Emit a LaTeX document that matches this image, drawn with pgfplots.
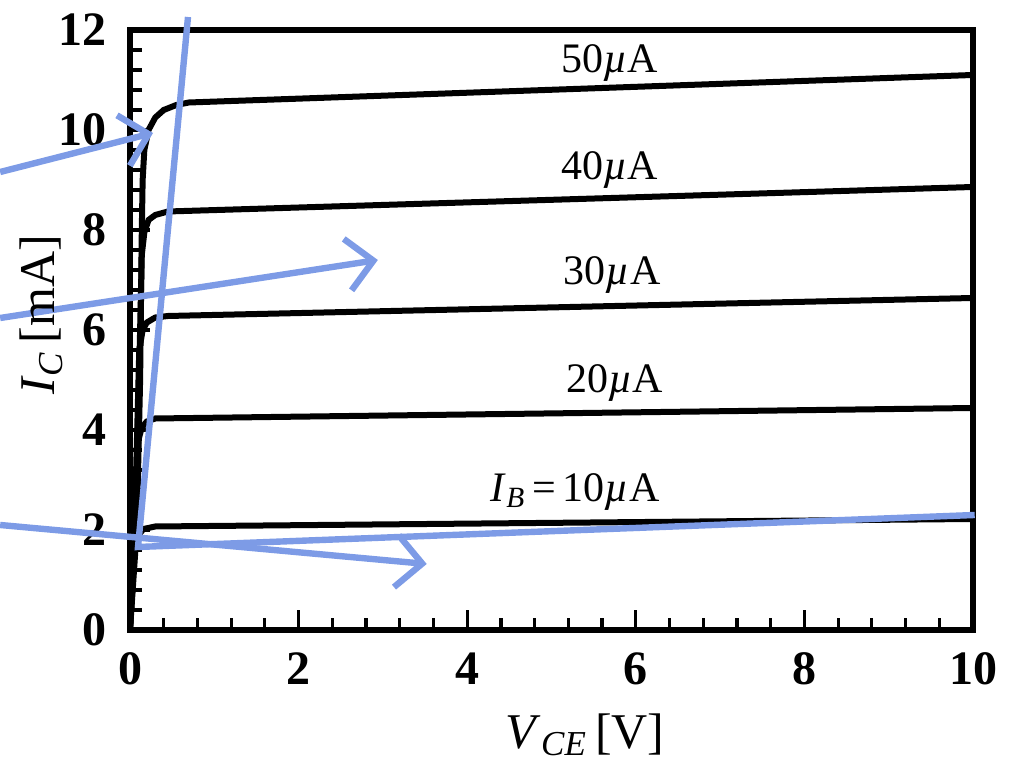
\documentclass[border=0pt]{standalone}
\usepackage{fontspec}
\setmainfont{Liberation Serif}
\usepackage{pgfplots}
\pgfplotsset{compat=1.18}
\usetikzlibrary{arrows.meta}
\definecolor{annot}{RGB}{125,155,230}
\begin{document}
\begin{tikzpicture}
\begin{axis}[
  scale only axis, width=421.5pt, height=300pt,
  xmin=0, xmax=10, ymin=0, ymax=12,
  xtick={0,2,...,10}, ytick={0,2,...,12},
  minor tick num=4,
  tick pos=left,
  tick align=inside,
  major tick length=10pt, minor tick length=6pt,
  axis line style={line width=2.6pt},
  every tick/.style={line width=1.6pt, black},
  /pgf/number format/assume math mode=true,
  ticklabel style={font=\fontsize{24}{24}\selectfont\bfseries},
  yticklabel style={xshift=-8pt},
  xticklabel style={yshift=-8pt},
  xlabel={\textit{V}\textsubscript{\textit{CE}}\,[V]},
  ylabel={\textit{I}\textsubscript{\textit{C}}\,[mA]},
  label style={font=\fontsize{25}{25}\selectfont},
  xlabel style={at={(axis description cs:0.54,-0.175)}, anchor=center},
  ylabel style={at={(axis description cs:-0.105,0.525)}, anchor=center},
  clip=false,
]
\addplot[black, line width=3pt] coordinates {(0,0) (0.08,2) (0.12,5) (0.14,8) (0.15,9) (0.17,9.6) (0.22,10.0) (0.3,10.25) (0.4,10.4) (0.55,10.5) (0.7,10.55) (10,11.1)};
\addplot[black, line width=3pt] coordinates {(0,0) (0.08,3) (0.12,6) (0.14,7.5) (0.17,7.95) (0.22,8.2) (0.3,8.3) (0.45,8.37) (10,8.86)};
\addplot[black, line width=3pt] coordinates {(0,0) (0.07,3) (0.11,5.6) (0.15,6.0) (0.2,6.15) (0.3,6.25) (0.45,6.28) (10,6.64)};
\addplot[black, line width=3pt] coordinates {(0,0) (0.06,2.5) (0.1,3.8) (0.14,4.05) (0.2,4.17) (0.3,4.23) (10,4.44)};
\addplot[black, line width=3pt] coordinates {(0,0) (0.05,1.5) (0.1,1.9) (0.16,2.02) (0.3,2.07) (10,2.22)};
\node[font=\fontsize{21}{21}\selectfont] at (axis cs:5.69,11.34) {50\textit{µ}A};
\node[font=\fontsize{21}{21}\selectfont] at (axis cs:5.69,9.2) {40\textit{µ}A};
\node[font=\fontsize{21}{21}\selectfont] at (axis cs:5.72,7.1) {30\textit{µ}A};
\node[font=\fontsize{21}{21}\selectfont] at (axis cs:5.75,4.94) {20\textit{µ}A};
\node[font=\fontsize{21}{21}\selectfont] at (axis cs:5.28,2.76) {\textit{I}\textsubscript{\textit{B}}\,=\,10\textit{µ}A};
% annotation overlay
\addplot[annot, line width=3.2pt, -{Straight Barb[length=13pt, width=26pt]}] coordinates {(-1.54,9.16) (0.273,9.94)};
\addplot[annot, line width=3.2pt, -{Straight Barb[length=13pt, width=26pt]}] coordinates {(-1.54,6.24) (2.94,7.4)};
\addplot[annot, line width=3.2pt] coordinates {(0.688,12.26) (0.095,1.66) (10.02,2.3)};
\addplot[annot, line width=3.2pt, -{Straight Barb[length=13pt, width=26pt]}] coordinates {(-1.54,2.1) (3.52,1.32)};
\coordinate (SW) at (rel axis cs:0,0);
\coordinate (NE) at (rel axis cs:1,1);
\end{axis}
\pgfresetboundingbox
\path[use as bounding box] ([shift={(-65pt,-66.5pt)}]SW) rectangle ([shift={(19.5pt,15pt)}]NE);
\end{tikzpicture}
\end{document}
